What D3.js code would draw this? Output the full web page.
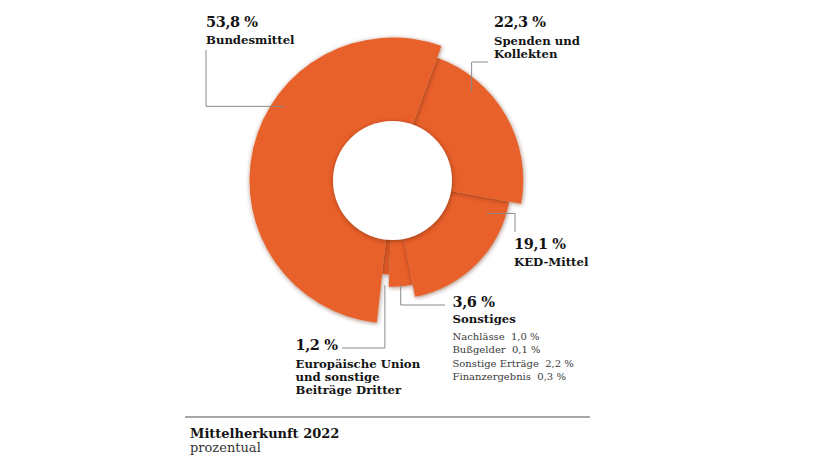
<!DOCTYPE html>
<html lang="de">
<head>
<meta charset="utf-8">
<script src="https://cdn.jsdelivr.net/npm/d3@7"></script>
<style>
    html, body { margin: 0; padding: 0; background: #fff; }
    #chart { width: 837px; height: 471px; }
    text { font-family: "DejaVu Serif", "Liberation Serif", serif; fill: #141414; }
</style>
</head>
<body>
<div id="chart"></div>
<script>
// slices, clockwise from the Spenden/Bundesmittel edge
const categories = ['Spenden und Kollekten', 'KED-Mittel', 'Sonstiges', 'Europäische Union und sonstige Beiträge Dritter', 'Bundesmittel'];
const shares = [22.3, 19.1, 3.6, 1.2, 53.8];

// breakdown of "Sonstiges"
const otherParts = ['Nachlässe', 'Bußgelder', 'Sonstige Erträge', 'Finanzergebnis'];
const otherValues = [1.0, 0.1, 2.2, 0.3];

const titleText = 'Mittelherkunft 2022';
const subtitleText = 'prozentual';

document.addEventListener('DOMContentLoaded', function() {
    const width = 837, height = 471;
    const cx = 392.5, cy = 180.5;
    const orange = '#e8612b';

    const de = d3.formatLocale({ decimal: ',', thousands: '.', grouping: [3], currency: ['', ' €'] });
    const pct = v => de.format('.1f')(v) + ' %';

    const data = categories.map((c, i) => ({ name: c, value: shares[i] }));

    // bigger share -> longer slice
    const ranked = data.map(d => d.value).sort((a, b) => a - b);
    data.forEach(d => { d.rank = ranked.indexOf(d.value); });
    const radius = d3.scaleLinear().domain([0, data.length - 1]).range([94, 143]);

    const start = 20 * Math.PI / 180;
    const pie = d3.pie()
        .sort(null)
        .value(d => d.value)
        .startAngle(start)
        .endAngle(start + 2 * Math.PI);

    const arcs = pie(data);
    const arc = d3.arc()
        .innerRadius(45)
        .outerRadius(d => radius(d.data.rank));

    const svg = d3.select('#chart')
        .append('svg')
        .attr('width', width)
        .attr('height', height);

    const defs = svg.append('defs');
    defs.append('filter')
        .attr('id', 'shade')
        .attr('x', '-20%').attr('y', '-20%')
        .attr('width', '140%').attr('height', '140%')
        .append('feDropShadow')
        .attr('dx', 0.5).attr('dy', 1)
        .attr('stdDeviation', 2.2)
        .attr('flood-color', '#5a1e00')
        .attr('flood-opacity', 0.55);

    const g = svg.append('g')
        .attr('transform', `translate(${cx},${cy})`);

    // draw shortest first so the longer slices sit on top
    g.selectAll('path.slice')
        .data(arcs.slice().sort((a, b) => a.data.rank - b.data.rank))
        .enter()
        .append('path')
        .attr('class', 'slice')
        .attr('d', arc)
        .attr('fill', orange)
        .attr('filter', 'url(#shade)');

    g.append('circle')
        .attr('r', 59.5)
        .attr('fill', '#fff')
        .attr('filter', 'url(#shade)');

    // labels + leader lines
    const byName = new Map(arcs.map(a => [a.data.name, a]));
    function polar(a, f, r) {
        const ang = a.startAngle + f * (a.endAngle - a.startAngle);
        return [cx + Math.sin(ang) * r, cy - Math.cos(ang) * r];
    }

    const labels = [
        { name: 'Bundesmittel', lines: ['Bundesmittel'], x: 206, y: 27, f: 0.61, r: 131, dir: 'h', end: [206, 50] },
        { name: 'Spenden und Kollekten', lines: ['Spenden und', 'Kollekten'], x: 494, y: 27, f: 0.27, r: 119, dir: 'v', end: [488, 62] },
        { name: 'KED-Mittel', lines: ['KED-Mittel'], x: 514, y: 249, f: 0.13, r: 100, dir: 'h', end: [515, 232] },
        { name: 'Sonstiges', lines: ['Sonstiges'], x: 452.5, y: 306.5, f: 0.5, r: 105, dir: 'v', end: [445, 305] },
        { name: 'Europäische Union und sonstige Beiträge Dritter', lines: ['Europäische Union', 'und sonstige', 'Beiträge Dritter'], x: 295.5, y: 350, f: 0.5, r: 105, dir: 'v', end: [342, 348] }
    ];

    labels.forEach(l => {
        const a = byName.get(l.name);
        const p0 = polar(a, l.f, l.r);
        const corner = l.dir === 'h' ? [l.end[0], p0[1]] : [p0[0], l.end[1]];
        svg.append('path')
            .attr('d', d3.line()([p0, corner, l.end]))
            .attr('fill', 'none')
            .attr('stroke', '#8a8a8a')
            .attr('stroke-width', 1);

        const t = svg.append('g').attr('transform', `translate(${l.x},${l.y})`);
        t.append('text')
            .style('font-size', '14.5px')
            .style('font-weight', 'bold')
            .style('letter-spacing', '-0.4px')
            .text(pct(a.data.value));
        l.lines.forEach((line, i) => {
            t.append('text')
                .attr('y', (l.lines.length > 1 ? 18 : 16.5) + i * 13.2)
                .style('font-size', '11.7px')
                .style('font-weight', 'bold')
                .text(line);
        });
    });

    // Sonstiges breakdown
    const sub = svg.append('g').attr('transform', 'translate(452.5,340)');
    otherParts.forEach((p, i) => {
        sub.append('text')
            .attr('y', i * 13.4)
            .attr('xml:space', 'preserve')
            .style('white-space', 'pre')
            .style('font-size', '10px')
            .style('fill', '#3a3a3a')
            .text(`${p}  ${pct(otherValues[i])}`);
    });

    // footer
    svg.append('line')
        .attr('x1', 185).attr('x2', 590)
        .attr('y1', 417).attr('y2', 417)
        .attr('stroke', '#8a8a8a')
        .attr('stroke-width', 1.5);

    svg.append('text')
        .attr('x', 190).attr('y', 437.5)
        .style('font-size', '13px')
        .style('font-weight', 'bold')
        .text(titleText);

    svg.append('text')
        .attr('x', 190).attr('y', 452)
        .style('font-size', '13px')
        .style('fill', '#333')
        .text(subtitleText);
});
</script>
</body>
</html>
